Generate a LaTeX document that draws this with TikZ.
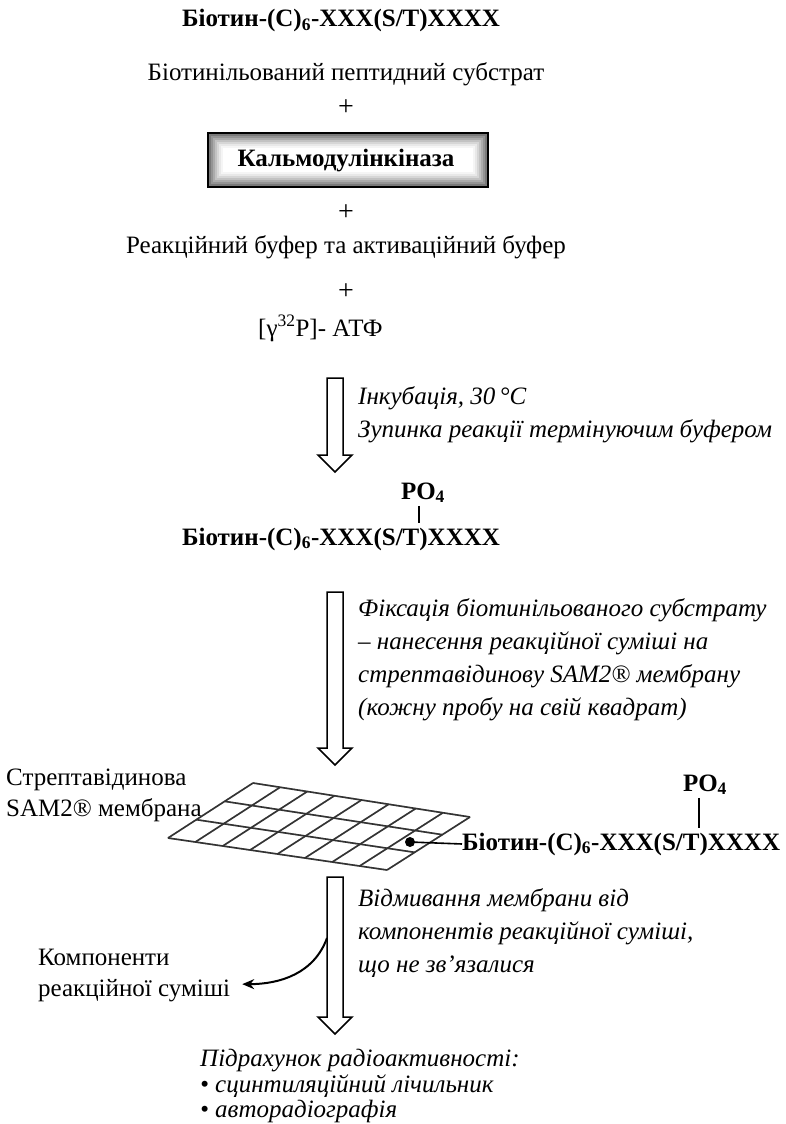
\documentclass[tikz,border=0pt]{standalone}
\usepackage{fontspec}
\setmainfont{Liberation Serif}
\usetikzlibrary{arrows.meta,calc}
\newcommand{\seqtext}{Біотин-(C)\textsubscript{6}-XXX(S/T)XXXX}
\begin{document}
\begin{tikzpicture}[x=1pt,y=-1pt,
  txt/.style={inner sep=0pt, font=\fontsize{25}{33}\selectfont},
  btxt/.style={inner sep=0pt, font=\fontsize{25}{33}\selectfont\bfseries},
  itxt/.style={inner sep=0pt, font=\fontsize{25}{33}\selectfont\itshape},
  plus/.style={inner sep=0pt, font=\fontsize{28}{33}\selectfont},
  hollow/.style={draw, line width=1.5pt, fill=white, line join=miter},
  grid line/.style={line width=1.6pt, black!80},
  grid shade/.style={line width=1.6pt, black!25},
]
\useasboundingbox (0,0) rectangle (785,1124);

% --- reaction components ---
\node[btxt, anchor=base] (seqA) at (341,27) {\seqtext};
\node[txt, anchor=base] (subst) at (346,81) {Біотинільований пептидний субстрат};
\node[plus] (plusA) at (346,108) {+};

% kinase box with an inner grey glow
\foreach \i/\c in {0/62,2/52,4/42,6/33,8/24,10/16,12/9,14/4}
  \draw[line width=2.2pt, black!\c] (208+\i,133+\i) rectangle (488-\i,187-\i);
\draw[line width=2.6pt] (208,133) rectangle (488,187);
\node[btxt, anchor=base] (kinase) at (346,166) {Кальмодулінкіназа};

\node[plus] (plusB) at (346,213) {+};
\node[txt, anchor=base] (buffer) at (346,253) {Реакційний буфер та активаційний буфер};
\node[plus] (plusC) at (346,292) {+};
\node[txt, anchor=base west] (atp) at (258,336) {[γ\textsuperscript{32}P]- АТФ};

% --- step 1 ---
\draw[hollow] (327,378) -- (343,378) -- (343,455) -- (352,455) -- (335,472)
  -- (318,455) -- (327,455) -- cycle;
\node[itxt, anchor=base west] (incA) at (358,404) {Інкубація, 30\,°C};
\node[itxt, anchor=base west] (incB) at (358,437) {Зупинка реакції термінуючим буфером};

\node[btxt, anchor=base] (seqB) at (341,545) {\seqtext};
\node[btxt, anchor=base] (poB) at (423,499) {PO\textsubscript{4}};
\coordinate (tB) at (419,523);
\draw[line width=1.3pt] (poB.south -| tB) ++(0,3) -- (tB);

% --- step 2 ---
\draw[hollow] (327,592) -- (343,592) -- (343,748) -- (352,748) -- (335,765)
  -- (318,748) -- (327,748) -- cycle;
\node[itxt, anchor=base west] (fixA) at (358,616) {Фіксація біотинільованого субстрату};
\node[itxt, anchor=base west] (fixB) at (358,649) {– нанесення реакційної суміші на};
\node[itxt, anchor=base west] (fixC) at (358,682) {стрептавідинову SAM2® мембрану};
\node[itxt, anchor=base west] (fixD) at (358,715) {(кожну пробу на свій квадрат)};

\node[txt, anchor=base west] (memA) at (6,785) {Стрептавідинова};
\node[txt, anchor=base west] (memB) at (6,816) {SAM2® мембрана};

% membrane: 8 x 3 grid on a slanted sheet
\coordinate (mL) at (168,838);
\coordinate (mT) at (253,783);
\coordinate (mR) at (470,817);
\coordinate (mB) at (387,870);
\foreach \s/\st in {1.5/grid shade,0/grid line}{
  \foreach \k in {0,...,8}
    \draw[\st, shift={(\s,\s)}] ($(mL)!\k/8!(mB)$) -- ($(mT)!\k/8!(mR)$);
  \foreach \k in {0,...,3}
    \draw[\st, shift={(\s,\s)}] ($(mL)!\k/3!(mT)$) -- ($(mB)!\k/3!(mR)$);
}
\fill (410,842) circle (5) coordinate (dot);
\node[btxt, anchor=base west] (seqC) at (462,850) {\seqtext};
\draw[line width=1.6pt] (dot) -- (seqC.west);
\node[btxt, anchor=base] (poC) at (705,791) {PO\textsubscript{4}};
\coordinate (tC) at (699,828);
\draw[line width=1.3pt] (poC.south -| tC) ++(0,3) -- (tC);

% --- step 3 ---
\draw[hollow] (327,877) -- (343,877) -- (343,1017) -- (352,1017) -- (335,1034)
  -- (318,1017) -- (327,1017) -- cycle;
\node[itxt, anchor=base west] (washA) at (358,906) {Відмивання мембрани від};
\node[itxt, anchor=base west] (washB) at (358,939) {компонентів реакційної суміші,};
\node[itxt, anchor=base west] (washC) at (358,972) {що не зв'язалися};

\node[txt, anchor=base west] (compA) at (38,965) {Компоненти};
\node[txt, anchor=base west] (compB) at (38,996) {реакційної суміші};
\coordinate (out) at (327,938);
\draw[line width=2pt, -{Stealth[length=12pt,width=10pt]}]
  (out) to[out=-110, in=0] ($(compB.east)+(12,-6)$);

\node[itxt, anchor=base west] (cntA) at (200,1066) {Підрахунок радіоактивності:};
\node[itxt, anchor=base west] (cntB) at (200,1092) {• сцинтиляційний лічильник};
\node[itxt, anchor=base west] (cntC) at (200,1117) {• авторадіографія};
\end{tikzpicture}
\end{document}
